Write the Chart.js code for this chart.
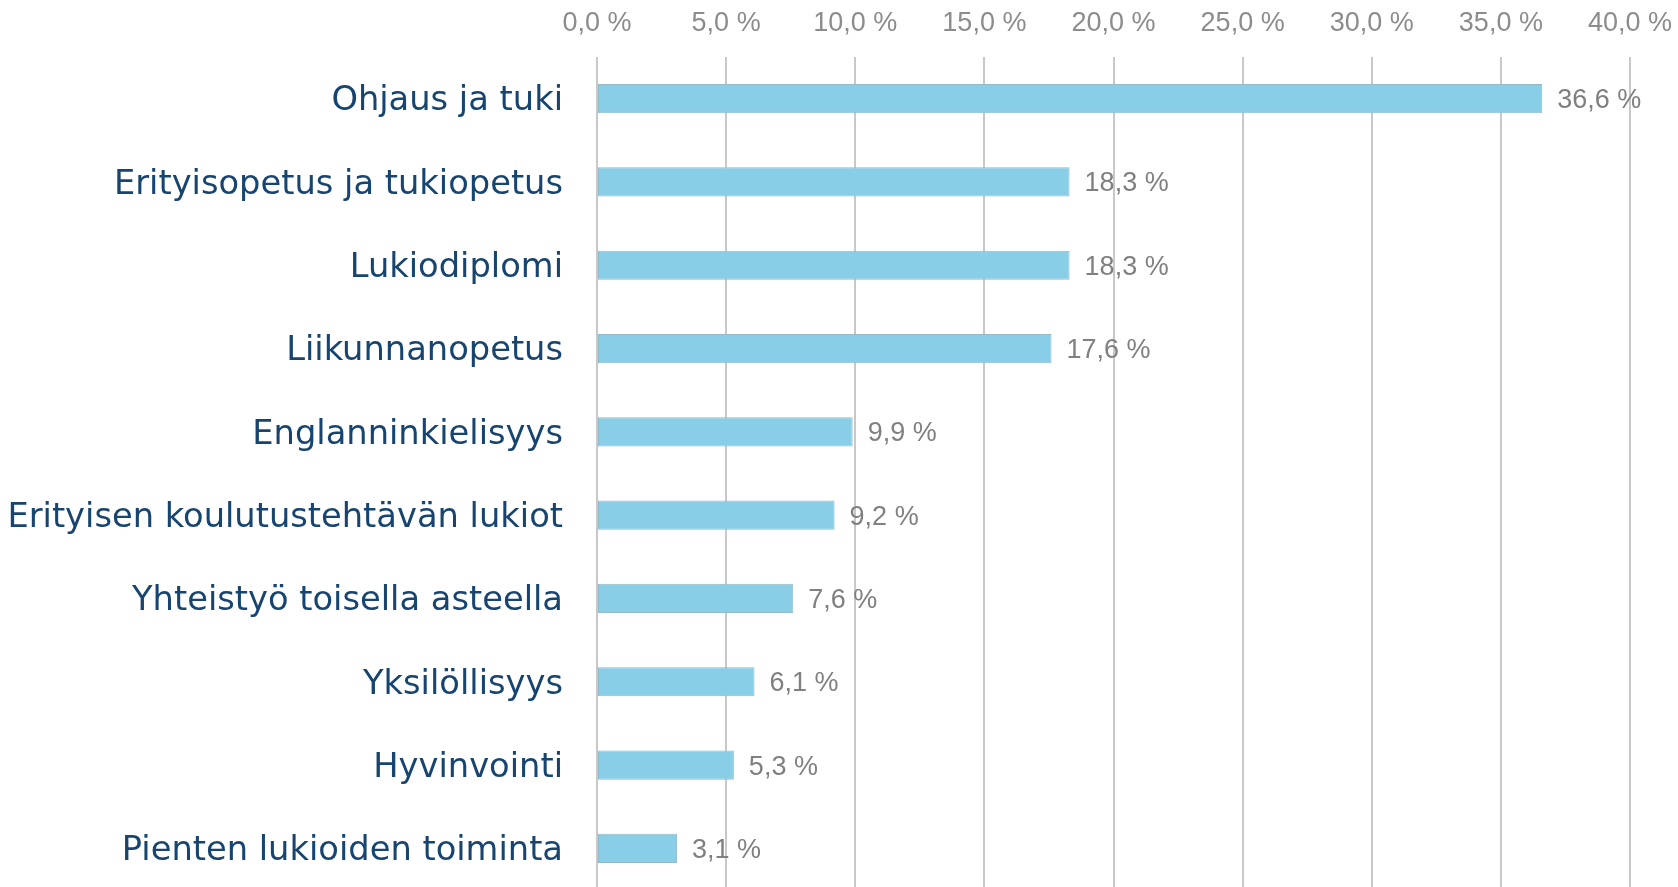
<!DOCTYPE html>
<html>
<head>
<meta charset="utf-8">
<script src="https://cdn.jsdelivr.net/npm/chart.js@4"></script>
<style>
    html, body { margin: 0; padding: 0; background: #fff; overflow: hidden; }
    #wrap { width: 1678px; height: 890px; position: relative; }
</style>
</head>
<body>
<div id="wrap"><canvas id="chart"></canvas></div>
<script>
const categories = [
    "Ohjaus ja tuki",
    "Erityisopetus ja tukiopetus",
    "Lukiodiplomi",
    "Liikunnanopetus",
    "Englanninkielisyys",
    "Erityisen koulutustehtävän lukiot",
    "Yhteistyö toisella asteella",
    "Yksilöllisyys",
    "Hyvinvointi",
    "Pienten lukioiden toiminta"
];
const shares = [36.6, 18.3, 18.3, 17.6, 9.9, 9.2, 7.6, 6.1, 5.3, 3.1];
const axisMin = 0;
const axisMax = 40;
const axisStep = 5;

const LABEL_FONT = "'DejaVu Sans', sans-serif";
const NUM_FONT = "'Liberation Sans', sans-serif";

// 12,3 -> "12,3 %"
function pct(v) {
    return v.toFixed(1).replace('.', ',') + ' %';
}

// draws the value next to each bar end
const valueLabels = {
    id: 'valueLabels',
    afterDatasetsDraw(chart) {
        const ctx = chart.ctx;
        const meta = chart.getDatasetMeta(0);
        ctx.save();
        ctx.font = `27px ${NUM_FONT}`;
        ctx.fillStyle = '#808080';
        ctx.textAlign = 'left';
        ctx.textBaseline = 'middle';
        meta.data.forEach((bar, i) => {
            ctx.fillText(pct(shares[i]), bar.x + 15, bar.y + 2);
        });
        ctx.restore();
    }
};

new Chart(document.getElementById('chart'), {
    type: 'bar',
    data: {
        labels: categories,
        datasets: [{
            data: shares,
            backgroundColor: '#87cee6',
            borderColor: '#94b9c8',
            borderWidth: 1,
            borderSkipped: false,
            barPercentage: 0.35,
            categoryPercentage: 1
        }]
    },
    options: {
        indexAxis: 'y',
        responsive: true,
        maintainAspectRatio: false,
        animation: false,
        layout: {padding: {left: 0, right: 48, top: 0, bottom: 0}},
        plugins: {
            legend: {display: false},
            tooltip: {enabled: false}
        },
        scales: {
            x: {
                position: 'top',
                min: axisMin,
                max: axisMax,
                afterFit(scale) {
                    scale.height = 57;
                    scale.paddingLeft = 0;
                    scale.paddingRight = 0;
                },
                ticks: {
                    stepSize: axisStep,
                    padding: 17,
                    color: '#8c8c8c',
                    font: {family: NUM_FONT, size: 27},
                    callback: (v) => pct(v)
                },
                grid: {color: '#c8c8c8', lineWidth: 2, drawTicks: false},
                border: {display: false}
            },
            y: {
                afterFit(scale) {
                    scale.width = 597;
                    scale.paddingTop = 0;
                    scale.paddingBottom = 0;
                },
                ticks: {
                    padding: 34,
                    labelOffset: 3,
                    color: '#17456f',
                    font: {family: LABEL_FONT, size: 33.7}
                },
                grid: {display: false, drawTicks: false},
                border: {display: false}
            }
        }
    },
    plugins: [valueLabels]
});
</script>
</body>
</html>
